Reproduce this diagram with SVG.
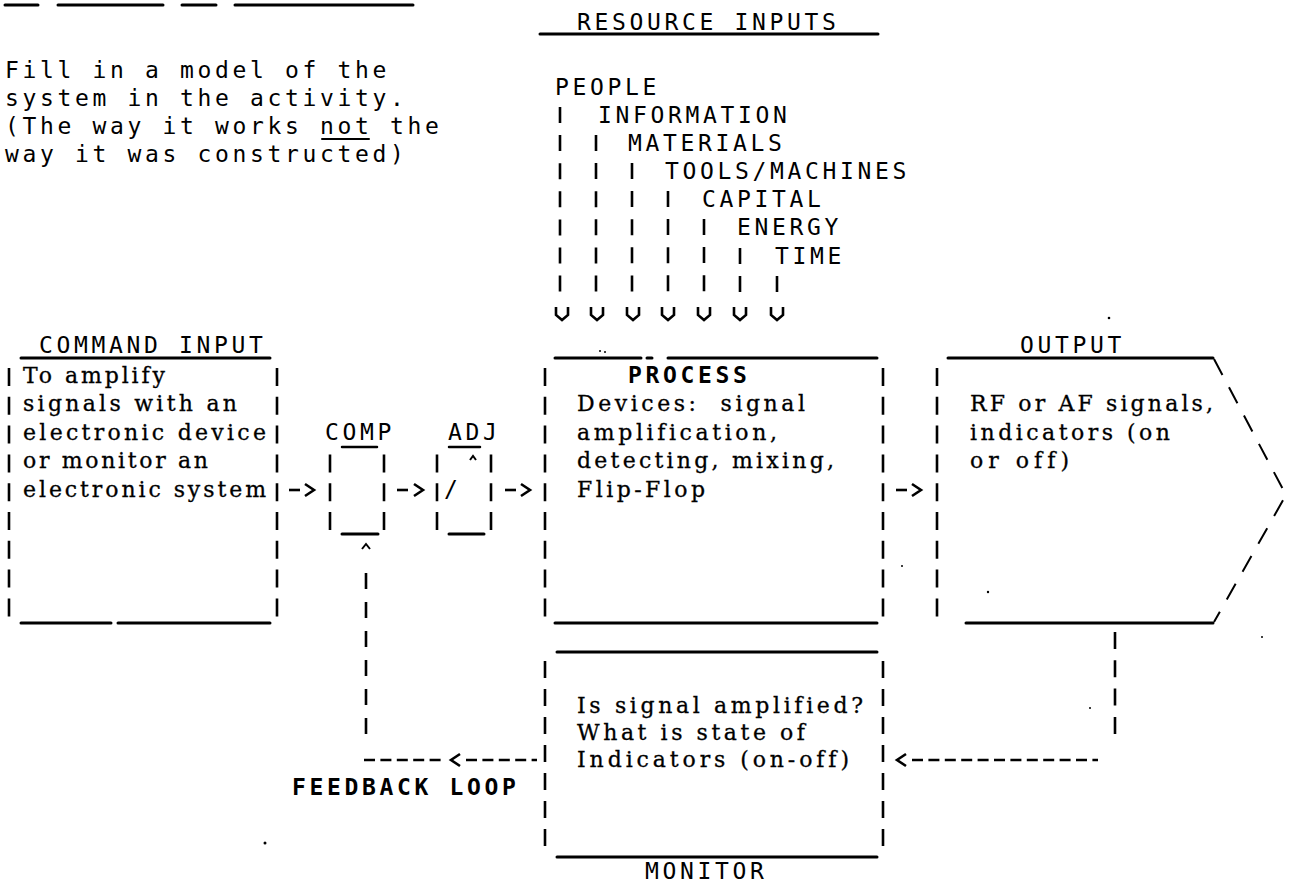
<svg xmlns="http://www.w3.org/2000/svg" width="1289" height="884" viewBox="0 0 1289 884">
<style>
.s{font-family:"DejaVu Sans Mono","Liberation Mono",monospace;font-size:23px;letter-spacing:3.65px;fill:#000}
.b{font-weight:bold}
.t{font-family:"DejaVu Serif","Liberation Serif",serif;font-size:22px;fill:#000;stroke:#000;stroke-width:0.3;white-space:pre;font-variant-ligatures:none;font-feature-settings:"liga" 0}
.u{stroke:#000;stroke-width:3;stroke-linecap:round;fill:none}
.bar{stroke:#000;stroke-width:2.6;fill:none}
.pc{stroke-dasharray:18 10.8}
.rc{stroke-dasharray:16 12.1}
.mc{stroke-dasharray:17 11}
.fb{stroke-dasharray:16 13}
.dash{stroke:#000;stroke-width:2.6;fill:none;stroke-dasharray:11 5.4}
.hd{stroke:#000;stroke-width:2.6;fill:none;stroke-linejoin:miter}
.dg{stroke:#000;stroke-width:2;fill:none;stroke-dasharray:18 14}
.dot{fill:#000}
</style>
<defs>
<path id="vh" class="hd" d="M-6,-13 L-6,-5 L0,0 L6,-5 L6,-13"/>
<path id="cr" class="hd" d="M0,-6 L9,0 L0,6"/>
<path id="cl" class="hd" d="M9,-6 L0,0 L9,6"/>
</defs>

<g id="header-fragment">
<line class="u" x1="5" y1="5" x2="38" y2="5"/>
<line class="u" x1="58" y1="5" x2="163" y2="5"/>
<line class="u" x1="182" y1="5" x2="216" y2="5"/>
<line class="u" x1="235" y1="5" x2="413" y2="5"/>
</g>

<g id="instructions">
<text class="s" x="5" y="78">Fill in a model of the</text>
<text class="s" x="5" y="106">system in the activity.</text>
<text class="s" x="5" y="134">(The way it works not the</text>
<text class="s" x="5" y="162">way it was constructed)</text>
<line class="u" x1="322" y1="139" x2="369" y2="139" style="stroke-width:2"/>
</g>

<g id="resource-inputs">
<text class="s" x="577" y="30">RESOURCE INPUTS</text>
<line class="u" x1="540" y1="34" x2="878" y2="34"/>
<text class="s" x="555" y="95">PEOPLE</text>
<text class="s" x="598" y="123">INFORMATION</text>
<text class="s" x="628" y="151">MATERIALS</text>
<text class="s" x="665" y="179">TOOLS/MACHINES</text>
<text class="s" x="702" y="207">CAPITAL</text>
<text class="s" x="737" y="235">ENERGY</text>
<text class="s" x="775" y="264">TIME</text>
</g>

<g id="command-input">
<text class="s" x="39" y="353">COMMAND INPUT</text>
<line class="u" x1="21" y1="358" x2="270" y2="358"/>
<line class="bar pc" x1="9" y1="368" x2="9" y2="617"/>
<line class="bar pc" x1="277" y1="368" x2="277" y2="617"/>
<text class="t" x="23" y="383" textLength="142" lengthAdjust="spacing">To amplify</text>
<text class="t" x="23" y="411" textLength="214" lengthAdjust="spacing">signals with an</text>
<text class="t" x="23" y="440" textLength="243" lengthAdjust="spacing">electronic device</text>
<text class="t" x="23" y="468" textLength="185" lengthAdjust="spacing">or monitor an</text>
<text class="t" x="23" y="497" textLength="243" lengthAdjust="spacing">electronic system</text>
<line class="u" x1="21" y1="623" x2="111" y2="623"/>
<line class="u" x1="118" y1="623" x2="270" y2="623"/>
</g>

<g id="comp">
<text class="s" x="325" y="440">COMP</text>
<line class="u" x1="342" y1="447" x2="377" y2="447" style="stroke-width:2.5"/>
<line class="bar pc" x1="330" y1="454.4" x2="330" y2="531"/>
<line class="bar pc" x1="384" y1="454.4" x2="384" y2="531"/>
<line class="u" x1="342" y1="534" x2="378" y2="534"/>
</g>

<g id="adj">
<text class="s" x="448" y="440">ADJ</text>
<line class="u" x1="449" y1="447" x2="480" y2="447" style="stroke-width:2.5"/>
<line class="bar pc" x1="437" y1="454.4" x2="437" y2="531"/>
<line class="bar pc" x1="491" y1="454.4" x2="491" y2="531"/>
<path class="hd" d="M470,460 L473,456 L476,460" style="stroke-width:2"/>
<text class="s" x="444" y="497">/</text>
<line class="u" x1="449" y1="534" x2="484" y2="534"/>
</g>

<g id="process">
<line class="u" x1="555" y1="358" x2="641" y2="358"/>
<line class="u" x1="647" y1="358" x2="652" y2="358"/>
<line class="u" x1="668" y1="358" x2="877" y2="358"/>
<line class="bar pc" x1="545" y1="368" x2="545" y2="617"/>
<line class="bar pc" x1="883" y1="368" x2="883" y2="617"/>
<text class="s b" x="628" y="383">PROCESS</text>
<text class="t" x="577" y="411" textLength="228" lengthAdjust="spacing">Devices:  signal</text>
<text class="t" x="577" y="440" textLength="200" lengthAdjust="spacing">amplification,</text>
<text class="t" x="577" y="468" textLength="257" lengthAdjust="spacing">detecting, mixing,</text>
<text class="t" x="577" y="497" textLength="128" lengthAdjust="spacing">Flip-Flop</text>
<line class="u" x1="555" y1="623" x2="877" y2="623"/>
</g>

<g id="output">
<text class="s" x="1020" y="353">OUTPUT</text>
<line class="u" x1="948" y1="358" x2="1213" y2="358"/>
<line class="bar pc" x1="937" y1="368" x2="937" y2="617"/>
<text class="t" x="970" y="411" textLength="243" lengthAdjust="spacing">RF or AF signals,</text>
<text class="t" x="970" y="440" textLength="200" lengthAdjust="spacing">indicators (on</text>
<text class="t" x="970" y="468" textLength="99" lengthAdjust="spacing">or off)</text>
<line class="u" x1="966" y1="623" x2="1213" y2="623"/>
<path class="dg" d="M1214,359 L1286,495 L1214,622"/>
</g>

<g id="monitor">
<line class="u" x1="557" y1="652" x2="877" y2="652"/>
<line class="bar mc" x1="545" y1="661" x2="545" y2="847"/>
<line class="bar mc" x1="883" y1="661" x2="883" y2="847"/>
<text class="t" x="577" y="713" textLength="286" lengthAdjust="spacing">Is signal amplified?</text>
<text class="t" x="577" y="740" textLength="228" lengthAdjust="spacing">What is state of</text>
<text class="t" x="577" y="767" textLength="272" lengthAdjust="spacing">Indicators (on-off)</text>
<line class="u" x1="557" y1="857" x2="877" y2="857"/>
<text class="s" x="645" y="879">MONITOR</text>
</g>

<g id="feedback-label">
<text class="s b" x="292" y="795">FEEDBACK LOOP</text>
</g>

<g id="connectors">
<line class="bar rc" x1="560" y1="107" x2="560" y2="292"/>
<line class="bar rc" x1="596" y1="135" x2="596" y2="292"/>
<line class="bar rc" x1="632" y1="163" x2="632" y2="292"/>
<line class="bar rc" x1="668" y1="191" x2="668" y2="292"/>
<line class="bar rc" x1="704" y1="219" x2="704" y2="292"/>
<line class="bar rc" x1="740" y1="248" x2="740" y2="292"/>
<line class="bar rc" x1="777" y1="276" x2="777" y2="292"/>
<use href="#vh" x="562" y="320"/>
<use href="#vh" x="597" y="320"/>
<use href="#vh" x="633" y="320"/>
<use href="#vh" x="668" y="320"/>
<use href="#vh" x="704" y="320"/>
<use href="#vh" x="740" y="320"/>
<use href="#vh" x="777" y="320"/>

<line class="bar" x1="289" y1="490" x2="300" y2="490"/>
<use href="#cr" x="305" y="490"/>
<line class="bar" x1="397" y1="490" x2="408" y2="490"/>
<use href="#cr" x="414" y="490"/>
<line class="bar" x1="505" y1="490" x2="516" y2="490"/>
<use href="#cr" x="521" y="490"/>
<line class="bar" x1="896" y1="490" x2="907" y2="490"/>
<use href="#cr" x="912" y="490"/>

<path class="hd" d="M362,549 L366,544 L370,549" style="stroke-width:2"/>
<line class="bar fb" x1="366" y1="573" x2="366" y2="735"/>
<line class="dash" x1="364" y1="760" x2="446" y2="760"/>
<use href="#cl" x="451" y="760"/>
<line class="dash" x1="466" y1="760" x2="537" y2="760"/>

<line class="bar" x1="1115" y1="632" x2="1115" y2="737" style="stroke-dasharray:17 11.3"/>
<use href="#cl" x="897" y="760"/>
<line class="dash" x1="912" y1="760" x2="1098" y2="760"/>
</g>

<g id="specks">
<circle class="dot" cx="1109" cy="318" r="1.3"/>
<circle class="dot" cx="265" cy="843" r="1.5"/>
<circle class="dot" cx="902" cy="566" r="1"/>
<circle class="dot" cx="988" cy="592" r="1.2"/>
<circle class="dot" cx="1262" cy="637" r="1"/>
<circle class="dot" cx="1090" cy="708" r="1"/>
<circle class="dot" cx="600" cy="351" r="1"/>
<circle class="dot" cx="605" cy="352" r="1"/>
</g>
</svg>
